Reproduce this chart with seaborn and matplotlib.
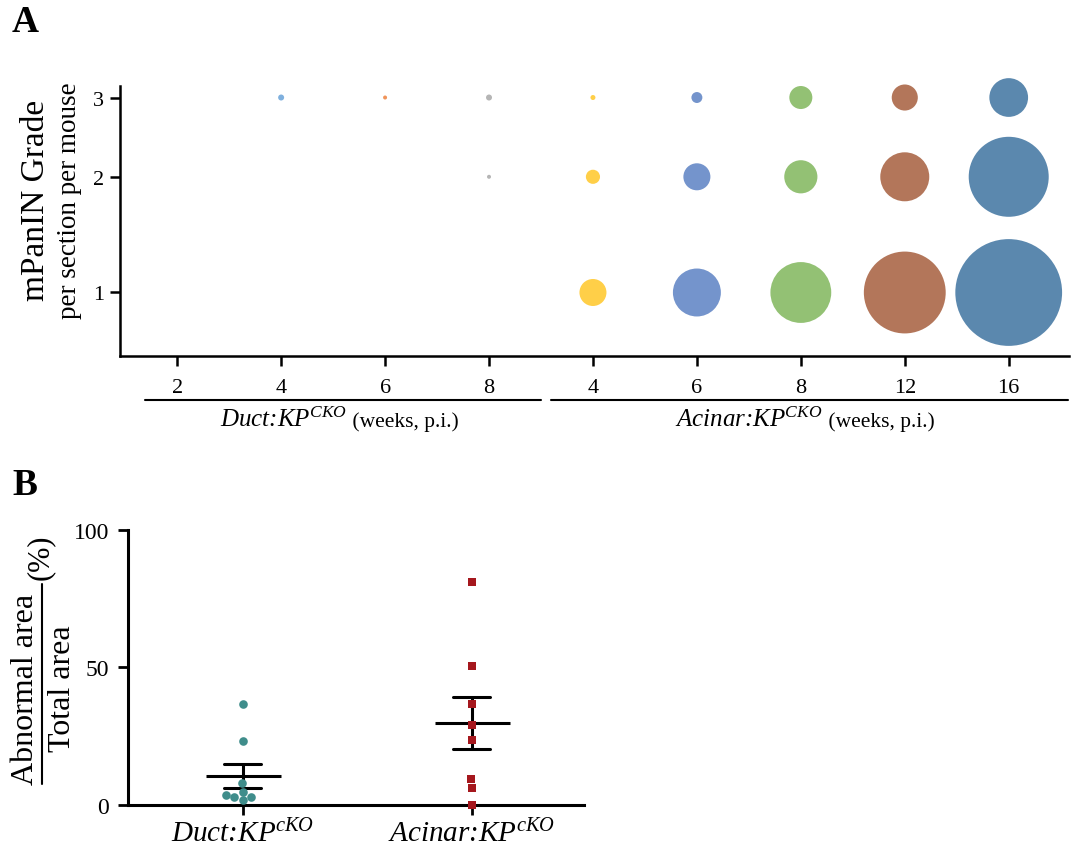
import numpy as np
import pandas as pd
import matplotlib
matplotlib.use("Agg")
import matplotlib.pyplot as plt
import seaborn as sns
from matplotlib.transforms import blended_transform_factory
from matplotlib.lines import Line2D

# ---------------- data (panel A) ----------------
cohorts = ["Duct", "Duct", "Duct", "Duct", "Acinar", "Acinar", "Acinar", "Acinar", "Acinar"]
weeks = [2, 4, 6, 8, 4, 6, 8, 12, 16]
col_colors = ["#7fb0de", "#7fb0de", "#f0945a", "#b5b5b5", "#ffcf48",
              "#7494cc", "#93c174", "#b3765a", "#5b88ae"]
grades = [1, 2, 3]
# relative lesion burden per section per mouse (bubble area)
grade1 = [0, 0, 0, 0, 7.3, 23, 37, 67, 114]
grade2 = [0, 0, 0, 0.16, 2.0, 7.3, 11, 24, 64]
grade3 = [0, 0.36, 0.16, 0.36, 0.25, 1.2, 5.3, 6.8, 15]

# ---------------- data (panel B) ----------------
groups = ["Duct", "Acinar"]
group_labels = ["Duct:KP$^{cKO}$", "Acinar:KP$^{cKO}$"]
duct_vals = [36.7, 23.0, 7.9, 4.8, 2.8, 1.6, 2.8, 3.6]
acinar_vals = [81.0, 50.5, 36.7, 29.1, 23.6, 9.2, 6.2, 0.0]
b_yticks = [0, 50, 100]

sns.set_theme(style="ticks")
plt.rcParams["font.family"] = ["Liberation Serif", "DejaVu Serif"]
plt.rcParams["mathtext.fontset"] = "custom"
plt.rcParams["mathtext.rm"] = "Liberation Serif"
plt.rcParams["mathtext.it"] = "Liberation Serif:italic"
plt.rcParams["mathtext.bf"] = "Liberation Serif:bold"
plt.rcParams["axes.linewidth"] = 1.8
plt.rcParams["axes.edgecolor"] = "black"
plt.rcParams["xtick.color"] = "black"
plt.rcParams["ytick.color"] = "black"
plt.rcParams["text.color"] = "black"

W, H = 1072, 862
fig = plt.figure(figsize=(W / 100, H / 100), dpi=100)

def px_axes(l, t, r, b):
    return fig.add_axes([l / W, 1 - b / H, (r - l) / W, (b - t) / H])

# ================= Panel A =================
axA = px_axes(119.5, 87, 1069, 357)
col_keys = [f"{c} {w}" for c, w in zip(cohorts, weeks)]
rows = []
for i, key in enumerate(col_keys):
    for g, arr in zip(grades, [grade1, grade2, grade3]):
        if arr[i] > 0:
            rows.append({"pos": i, "col": key, "grade": g, "val": arr[i]})
dfA = pd.DataFrame(rows)
vmax = 120.0
smax = 51.84 * vmax
sns.scatterplot(data=dfA, x="pos", y="grade", hue="col",
                palette=dict(zip(col_keys, col_colors)),
                size="val", sizes=(0, smax), size_norm=(0, vmax),
                linewidth=0, alpha=1, legend=False, ax=axA, clip_on=False)

p = 0.29
axA.set_yscale("function",
               functions=(lambda y: np.power(np.clip(y, 1e-9, None), p),
                          lambda t: np.power(np.clip(t, 1e-9, None), 1 / p)))
axA.set_ylim(0.638, 3.17)
axA.set_yticks(grades)
axA.set_yticklabels([str(g) for g in grades])
axA.yaxis.set_minor_locator(matplotlib.ticker.NullLocator())
axA.set_xlim(-0.555, 8.58)
axA.set_xticks(range(len(weeks)))
axA.set_xticklabels([str(w) for w in weeks])
axA.tick_params(axis="both", length=7, width=1.8, labelsize=16, pad=4)
axA.tick_params(axis="x", pad=8.5)
sns.despine(ax=axA)
axA.set_xlabel("")
axA.set_ylabel("")

# group brackets and labels
trA = blended_transform_factory(axA.transData, axA.transAxes)
yb = (357 - 401) / 270
axA.plot([-0.31, 3.50], [yb, yb], transform=trA, color="black", lw=1.5, clip_on=False)
axA.plot([3.60, 8.57], [yb, yb], transform=trA, color="black", lw=1.5, clip_on=False)
ylab = (357 - 427) / 270
for xr, name in [(1.636, "Duct"), (6.21, "Acinar")]:
    t1 = axA.text(xr, ylab, name + ":KP$^{CKO}$", transform=trA, ha="right",
                  va="baseline", fontstyle="italic", fontsize=18)
    axA.annotate(" (weeks, p.i.)", xy=(1, ylab), xycoords=(t1, "axes fraction"),
                 ha="left", va="baseline", fontsize=15.5)

fig.text(36 / W, 1 - 200 / H, "mPanIN Grade", rotation=90, ha="center", va="center",
         fontsize=24)
fig.text(70 / W, 1 - 201 / H, "per section per mouse", rotation=90, ha="center",
         va="center", fontsize=19.5)
fig.text(12 / W, 1 - 23 / H, "A", fontsize=27, fontweight="bold", va="center", ha="left")

# ================= Panel B =================
axB = px_axes(128.3, 530.7, 584, 805.7)
dfB = pd.DataFrame({"group": ["Duct"] * len(duct_vals) + ["Acinar"] * len(acinar_vals),
                    "value": duct_vals + acinar_vals})
sns.swarmplot(data=dfB[dfB.group == "Duct"], x="group", y="value", order=groups,
              color="#3f8d8b", marker="o", size=6.2, linewidth=0, ax=axB, clip_on=False)
sns.swarmplot(data=dfB[dfB.group == "Acinar"], x="group", y="value", order=groups,
              color="#a5171d", marker="s", size=6.0, linewidth=0, ax=axB, clip_on=False)
sns.pointplot(data=dfB, x="group", y="value", order=groups, errorbar="se",
              capsize=0.16, color="black", marker="_", markersize=54,
              markeredgewidth=2.2, linestyle="none", err_kws={"linewidth": 2.2},
              ax=axB)
axB.set_xlim(-0.5, 1.49)
axB.set_ylim(0, 100)
axB.set_yticks(b_yticks)
axB.set_yticklabels([str(v) for v in b_yticks])
axB.set_xticks(range(len(groups)))
axB.set_xticklabels(group_labels, fontstyle="italic", fontsize=21)
axB.tick_params(axis="both", length=7, width=2.0, pad=3)
axB.tick_params(axis="y", labelsize=17, pad=7)
for s in ["left", "bottom"]:
    axB.spines[s].set_linewidth(2.2)
sns.despine(ax=axB)
axB.set_xlabel("")
axB.set_ylabel("")

fig.text(26 / W, 1 - 689 / H, "Abnormal area", rotation=90, ha="center", va="center",
         fontsize=23)
fig.text(62 / W, 1 - 689 / H, "Total area", rotation=90, ha="center", va="center",
         fontsize=23)
fig.add_artist(Line2D([42 / W, 42 / W], [1 - 585 / H, 1 - 785 / H], color="black", lw=1.5))
fig.text(40 / W, 1 - 557 / H, "(%)", rotation=90, ha="center", va="center", fontsize=22)
fig.text(12 / W, 1 - 486 / H, "B", fontsize=27, fontweight="bold", va="center", ha="left")

fig.savefig("out.png", dpi=100)
